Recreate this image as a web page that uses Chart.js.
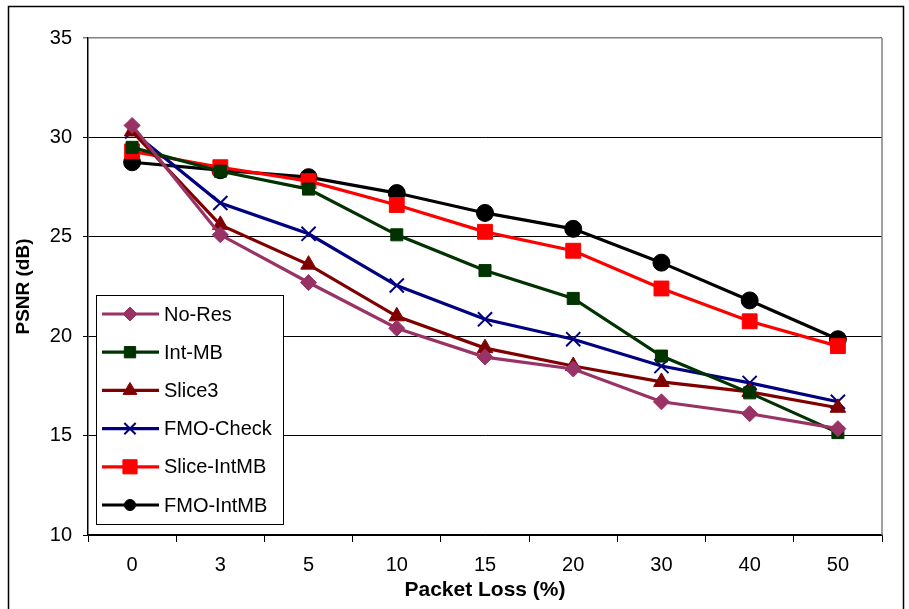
<!DOCTYPE html>
<html>
<head>
<meta charset="utf-8">
<script src="https://cdn.jsdelivr.net/npm/chart.js@4/dist/chart.umd.min.js"></script>
<style>
  html, body { margin: 0; padding: 0; background: #fff; }
  #wrap { width: 909px; height: 609px; }
</style>
</head>
<body>
<div id="wrap"><canvas id="psnrChart" width="909" height="609"></canvas></div>
<script>
// Categories (packet loss %) and PSNR series
const lossLabels = ['0', '3', '5', '10', '15', '20', '30', '40', '50'];
const noRes      = [30.6, 25.1, 22.7, 20.4, 18.95, 18.35, 16.7, 16.1, 15.35];
const intMB      = [29.5, 28.3, 27.4, 25.1, 23.3, 21.9, 19.0, 17.15, 15.15];
const slice3     = [30.3, 25.6, 23.6, 21.0, 19.4, 18.5, 17.7, 17.2, 16.4];
const fmoCheck   = [30.3, 26.7, 25.15, 22.55, 20.85, 19.85, 18.5, 17.65, 16.7];
const sliceIntMB = [29.3, 28.5, 27.8, 26.6, 25.25, 24.3, 22.4, 20.75, 19.5];
const fmoIntMB   = [28.75, 28.35, 28.0, 27.2, 26.2, 25.4, 23.7, 21.8, 19.85];
const yTicks     = [10, 15, 20, 25, 30, 35];

const FONT = "'Liberation Sans', Arial, sans-serif";

function series(label, data, color, style, radius, legendRadius, pbw) {
    return {
        label: label,
        data: data,
        borderColor: color,
        backgroundColor: color,
        pointBackgroundColor: color,
        pointBorderColor: color,
        pointStyle: style,
        pointRadius: radius,
        pointHoverRadius: radius,
        pointBorderWidth: pbw || 1,
        borderWidth: 3.2,
        tension: 0,
        legendRadius: legendRadius
    };
}

const datasets = [
    series('No-Res', noRes, '#993366', 'rectRot', 8, 7),
    series('Int-MB', intMB, '#003300', 'rect', 8.5, 8),
    series('Slice3', slice3, '#800000', 'triangle', 9, 8),
    series('FMO-Check', fmoCheck, '#000080', 'crossRot', 10, 8, 2),
    series('Slice-IntMB', sliceIntMB, '#FF0000', 'rect', 10.5, 10),
    series('FMO-IntMB', fmoIntMB, '#000000', 'circle', 8.5, 5.5)
];

// frame, plot border and the boxed legend inside the plot
const decorations = {
    id: 'decorations',
    beforeDraw(chart) {
        const ctx = chart.ctx;
        ctx.save();
        ctx.strokeStyle = '#000';
        ctx.lineWidth = 1.5;
        ctx.strokeRect(8.5, 6.5, 895, 640);
        ctx.restore();
    },
    afterDatasetsDraw(chart) {
        const ctx = chart.ctx;
        const a = chart.chartArea;
        ctx.save();
        ctx.strokeStyle = '#808080';
        ctx.lineWidth = 1.5;
        ctx.beginPath();
        ctx.moveTo(a.right, a.top);
        ctx.lineTo(a.right, a.bottom);
        ctx.stroke();

        // legend box
        const bx = 96, by = 295, bw = 187, bh = 229;
        ctx.fillStyle = '#fff';
        ctx.fillRect(bx, by, bw, bh);
        ctx.strokeStyle = '#000';
        ctx.lineWidth = 1;
        ctx.strokeRect(bx + 0.5, by + 0.5, bw, bh);

        ctx.font = '20px ' + FONT;
        ctx.textBaseline = 'middle';
        chart.data.datasets.forEach((ds, i) => {
            const y = 314 + i * 38.2;
            ctx.strokeStyle = ds.borderColor;
            ctx.lineWidth = 3.2;
            ctx.beginPath();
            ctx.moveTo(102, y);
            ctx.lineTo(159, y);
            ctx.stroke();
            ctx.fillStyle = ds.pointBackgroundColor;
            ctx.strokeStyle = ds.pointBorderColor;
            ctx.lineWidth = ds.pointBorderWidth;
            Chart.helpers.drawPoint(ctx, {
                pointStyle: ds.pointStyle,
                radius: ds.legendRadius,
                rotation: 0,
                borderWidth: ds.pointBorderWidth
            }, 130, y);
            ctx.fillStyle = '#000';
            ctx.fillText(ds.label, 164, y + 1);
        });
        ctx.restore();
    }
};

new Chart(document.getElementById('psnrChart'), {
    type: 'line',
    data: { labels: lossLabels, datasets: datasets },
    options: {
        responsive: false,
        animation: false,
        devicePixelRatio: 1,
        layout: { padding: { top: 38, right: 27, left: 0, bottom: 0 } },
        plugins: {
            legend: { display: false },
            tooltip: { enabled: false }
        },
        scales: {
            x: {
                offset: true,
                grid: { display: true, drawOnChartArea: false, offset: true, tickLength: 7, color: '#000', lineWidth: 1 },
                border: { color: '#000', width: 1.5 },
                ticks: { color: '#000', font: { family: FONT, size: 20 }, padding: 11, maxRotation: 0 },
                title: { display: true, text: 'Packet Loss (%)', color: '#000', font: { family: FONT, size: 21, weight: 'bold' }, padding: { top: 0, bottom: 6 } },
                afterFit(scale) { scale.height = 74; }
            },
            y: {
                min: 10,
                max: 35,
                afterBuildTicks(scale) { scale.ticks = yTicks.map(v => ({ value: v })); },
                grid: {
                    color: c => (c.tick && c.tick.value === 35) ? '#808080' : '#000',
                    lineWidth: c => (c.tick && c.tick.value === 35) ? 1.5 : 1,
                    tickLength: 5
                },
                border: { color: '#000', width: 1.5 },
                ticks: { color: '#000', font: { family: FONT, size: 20 }, padding: 11 },
                title: { display: true, text: 'PSNR (dB)', color: '#000', font: { family: FONT, size: 19, weight: 'bold' }, padding: { top: 12, bottom: 0 } },
                afterFit(scale) { scale.width = 88; }
            }
        }
    },
    plugins: [decorations]
});
</script>
</body>
</html>
